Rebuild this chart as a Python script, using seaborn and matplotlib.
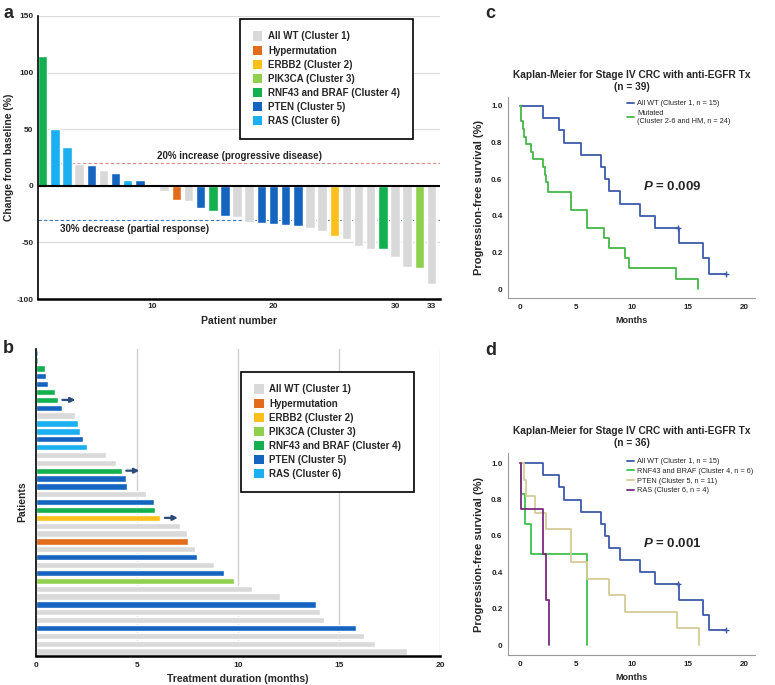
import pandas as pd
import seaborn as sns
import matplotlib.pyplot as plt
from matplotlib.patches import Patch

# clusters
WT = 'All WT (Cluster 1)'
HM = 'Hypermutation'
ERBB2 = 'ERBB2 (Cluster 2)'
PIK = 'PIK3CA (Cluster 3)'
RNF = 'RNF43 and BRAF (Cluster 4)'
PTEN = 'PTEN (Cluster 5)'
RAS = 'RAS (Cluster 6)'
clusters = [WT, HM, ERBB2, PIK, RNF, PTEN, RAS]
colors = ['#d9d9d9', '#e36c1c', '#fbc01a', '#8fd14f', '#12b050', '#1565c0', '#1aaff0']

# panel a: best response per patient
a_patient = list(range(1, 34))
a_change = [115, 50, 34, 19, 18, 14, 11.5, 5, 5, 0, -4.5, -12.4, -13.5, -19.4, -22.6, -27,
            -27.6, -32.4, -33.2, -34, -34.2, -35.9, -37, -40.3, -44.1, -46.8, -53.2, -55.6,
            -56.2, -62.6, -71.5, -73, -86.4]
a_cluster = [RNF, RAS, RAS, WT, PTEN, WT, PTEN, RAS, PTEN, WT, WT, HM, WT, PTEN, RNF, PTEN,
             WT, WT, PTEN, PTEN, PTEN, PTEN, WT, WT, ERBB2, WT, WT, WT, RNF, WT, WT, PIK, WT]

# panel b: treatment duration (months), top to bottom
b_months = [0.1, 0.1, 0.46, 0.5, 0.58, 0.96, 1.09, 1.27, 1.94, 2.09, 2.2, 2.32, 2.52, 3.46,
            3.96, 4.25, 4.47, 4.52, 5.45, 5.86, 5.91, 6.16, 7.15, 7.48, 7.5, 7.85, 7.96, 8.79,
            9.32, 9.8, 10.71, 12.1, 13.84, 14.06, 14.24, 15.84, 16.24, 16.79, 18.39]
b_cluster = [RAS, RNF, RNF, PTEN, PTEN, RNF, RNF, PTEN, WT, RAS, RAS, PTEN, RAS, WT, WT, RNF,
             PTEN, PTEN, WT, PTEN, RNF, ERBB2, WT, WT, HM, WT, PTEN, WT, PTEN, PIK, WT, WT,
             PTEN, WT, WT, PTEN, WT, WT, WT]
b_ongoing = [6, 15, 21]

# Kaplan-Meier step curves (time in months, survival)
wt_t = [0, 2.03, 3.49, 3.97, 5.49, 7.25, 7.61, 7.97, 8.93, 10.75, 12.05, 14.25, 16.35, 16.85, 18.45]
wt_s = [1, 0.933, 0.867, 0.8, 0.733, 0.667, 0.6, 0.533, 0.467, 0.4, 0.333, 0.25, 0.167, 0.083, 0.083]
wt_cens_t = [14.1, 18.45]
wt_cens_s = [0.333, 0.083]
mut_t = [0, 0.06, 0.12, 0.3, 0.4, 0.5, 0.95, 1.19, 2.08, 2.2, 2.3, 2.5, 4.53, 5.95, 7.53, 7.95,
         9.38, 9.73, 13.9, 15.9]
mut_s = [1, 0.958, 0.917, 0.875, 0.833, 0.79, 0.75, 0.71, 0.667, 0.625, 0.583, 0.53, 0.432,
         0.335, 0.277, 0.222, 0.168, 0.113, 0.056, 0]
rnf_t = [0, 0.1, 0.45, 0.95, 6.0]
rnf_s = [1, 0.833, 0.667, 0.5, 0]
pten_t = [0, 0.35, 0.55, 1.3, 2.3, 4.53, 5.95, 7.95, 9.38, 14.0, 16.0]
pten_s = [1, 0.909, 0.818, 0.727, 0.636, 0.455, 0.364, 0.273, 0.182, 0.091, 0]
ras_t = [0, 0.1, 2.1, 2.3, 2.55]
ras_s = [1, 0.75, 0.5, 0.25, 0]

sns.set_style('white')
plt.rcParams['font.family'] = ['Liberation Sans', 'DejaVu Sans']
plt.rcParams['axes.unicode_minus'] = False
plt.rcParams['mathtext.fontset'] = 'custom'
plt.rcParams['mathtext.it'] = 'Liberation Sans:italic:bold'
plt.rcParams['mathtext.rm'] = 'Liberation Sans:bold'

pal = dict(zip(clusters, colors))
fig = plt.figure(figsize=(7.75, 6.85), dpi=100)

def fpos(l, t, r, b):
    return [l / 775, 1 - b / 685, (r - l) / 775, (b - t) / 685]

def cluster_legend(ax, anchor):
    handles = [Patch(facecolor=c, edgecolor='none') for c in colors]
    leg = ax.legend(handles, clusters, loc='upper left', bbox_to_anchor=anchor,
                    frameon=True, fancybox=False, framealpha=1, borderaxespad=0,
                    prop={'size': 7, 'weight': 'bold'}, handlelength=1.0, handleheight=1.1,
                    handletextpad=0.6, labelspacing=0.42, borderpad=1.3)
    leg.get_frame().set_edgecolor('black')
    leg.get_frame().set_linewidth(1.2)

# ---- panel a ----
ax = fig.add_axes(fpos(37.7, 16, 440, 299))
df_a = pd.DataFrame({'patient': a_patient, 'change': a_change, 'cluster': a_cluster})
sns.barplot(data=df_a, x='patient', y='change', hue='cluster', hue_order=clusters,
            palette=pal, native_scale=True, dodge=False, width=0.78, legend=False,
            saturation=1, ax=ax, zorder=2)
ax.set_xlim(0.59, 33.7)
ax.set_ylim(-100, 150)
ax.set_yticks([-100, -50, 0, 50, 100, 150])
ax.set_xticks([10, 20, 30, 33])
ax.yaxis.grid(True, color='#dcdcdc', lw=0.9)
ax.set_axisbelow(True)
ax.axhline(0, color='black', lw=1.5, zorder=3)
ax.axhline(20, color='#d98a84', lw=0.8, ls=(0, (3, 2)), zorder=1)
ax.axhline(-30, color='#3a78c2', lw=0.8, ls=(0, (3, 2)), zorder=1)
ax.text(17.2, 26.5, '20% increase (progressive disease)', ha='center', va='center',
        fontsize=7, fontweight='bold', color='#222222')
ax.text(8.6, -38, '30% decrease (partial response)', ha='center', va='center',
        fontsize=7, fontweight='bold', color='#222222')
for s in ['top', 'right']:
    ax.spines[s].set_visible(False)
ax.spines['left'].set_linewidth(1.2)
ax.spines['bottom'].set_linewidth(1.8)
for s in ['left', 'bottom']:
    ax.spines[s].set_color('black')
ax.tick_params(length=0, labelsize=6, pad=3)
for lab in ax.get_xticklabels() + ax.get_yticklabels():
    lab.set_fontweight('bold')
ax.set_xlabel('Patient number', fontsize=7.5, fontweight='bold', labelpad=4)
ax.set_ylabel('Change from baseline (%)', fontsize=7.5, fontweight='bold', labelpad=2)
cluster_legend(ax, (0.503, 0.99))

# ---- panel b ----
ax = fig.add_axes(fpos(36, 348.8, 440, 655.5))
labels_b = [str(i) for i in range(1, len(b_months) + 1)]
df_b = pd.DataFrame({'patient': labels_b, 'months': b_months, 'cluster': b_cluster})
sns.barplot(data=df_b, x='months', y='patient', hue='cluster', hue_order=clusters,
            order=labels_b, palette=pal, dodge=False, width=0.8, legend=False,
            saturation=1, orient='h', ax=ax, zorder=2)
ax.set_xlim(0, 20)
ax.set_xticks([0, 5, 10, 15, 20])
ax.set_yticks([])
ax.xaxis.grid(True, color='#d0d0d0', lw=1.0)
ax.set_axisbelow(True)
for i in b_ongoing:
    ax.annotate('', xy=(b_months[i] + 1.0, i), xytext=(b_months[i] + 0.08, i),
                arrowprops=dict(arrowstyle='-|>', color='#2b4a7a', lw=1.6, mutation_scale=7))
for s in ['top', 'right']:
    ax.spines[s].set_visible(False)
ax.spines['left'].set_linewidth(1.2)
ax.spines['bottom'].set_linewidth(1.8)
for s in ['left', 'bottom']:
    ax.spines[s].set_color('black')
ax.tick_params(length=0, labelsize=6, pad=5)
for lab in ax.get_xticklabels():
    lab.set_fontweight('bold')
ax.set_xlabel('Treatment duration (months)', fontsize=7.5, fontweight='bold', labelpad=3)
ax.set_ylabel('Patients', fontsize=7.5, fontweight='bold', labelpad=6)
cluster_legend(ax, (0.508, 0.925))

# ---- KM panels ----
title_base = 'Kaplan-Meier for Stage IV CRC with anti-EGFR Tx'

def km_axes(box, ylim, n, curves, ptxt, legend_anchor):
    ax = fig.add_axes(fpos(*box))
    for t, s, c, lab in curves:
        sns.lineplot(x=t, y=s, drawstyle='steps-post', estimator=None, sort=False,
                     color=c, lw=1.3, label=lab, ax=ax)
    ax.plot(wt_cens_t, wt_cens_s, '+', color='#3d5aa8', ms=4, mew=1.0)
    ax.set_xlim(-1.07, 21)
    ax.set_ylim(*ylim)
    ax.set_xticks([0, 5, 10, 15, 20])
    ax.set_yticks([0, 0.2, 0.4, 0.6, 0.8, 1.0])
    ax.set_yticklabels(['0', '0.2', '0.4', '0.6', '0.8', '1.0'])
    for s in ['top', 'right']:
        ax.spines[s].set_visible(False)
    for s in ['left', 'bottom']:
        ax.spines[s].set_color('#9a9a9a')
        ax.spines[s].set_linewidth(0.8)
    ax.tick_params(length=0, labelsize=5.8, pad=4, colors='#222222')
    for lab in ax.get_xticklabels() + ax.get_yticklabels():
        lab.set_fontweight('bold')
    ax.set_title(title_base + '\n(n = %d)' % n, fontsize=7.3, fontweight='bold', pad=5,
                 linespacing=1.3)
    ax.set_xlabel('Months', fontsize=6.5, fontweight='bold', labelpad=4)
    ax.set_ylabel('Progression-free survival (%)', fontsize=8, fontweight='bold', labelpad=5)
    ax.text(11.0, 0.56, ptxt, fontsize=9.5, fontweight='bold', va='center', ha='left')
    ax.legend(loc='upper left', bbox_to_anchor=legend_anchor, frameon=False,
              fontsize=5.3, handlelength=1.0, handletextpad=0.4, labelspacing=0.35,
              borderaxespad=0)
    return ax

km_axes((508, 97, 755, 298), (-0.049, 1.049), 39,
        [(wt_t, wt_s, '#3d5aa8', 'All WT (Cluster 1, n = 15)'),
         (mut_t, mut_s, '#44b649', 'Mutated\n(Cluster 2-6 and HM, n = 24)')],
        r'$P$ = 0.009', (0.47, 1.0))
km_axes((508, 453, 755, 655), (-0.055, 1.056), 36,
        [(wt_t, wt_s, '#3d5aa8', 'All WT (Cluster 1, n = 15)'),
         (rnf_t, rnf_s, '#3cc14e', 'RNF43 and BRAF (Cluster 4, n = 6)'),
         (pten_t, pten_s, '#d4cc96', 'PTEN (Cluster 5, n = 11)'),
         (ras_t, ras_s, '#7a2a7e', 'RAS (Cluster 6, n = 4)')],
        r'$P$ = 0.001', (0.47, 0.99))

for lbl, x, y in [('a', 3, 5), ('b', 3, 340), ('c', 485, 5), ('d', 485, 342)]:
    fig.text(x / 775, 1 - y / 685, lbl, fontsize=13, fontweight='bold', va='top', ha='left')

fig.savefig('out.png', dpi=100)
